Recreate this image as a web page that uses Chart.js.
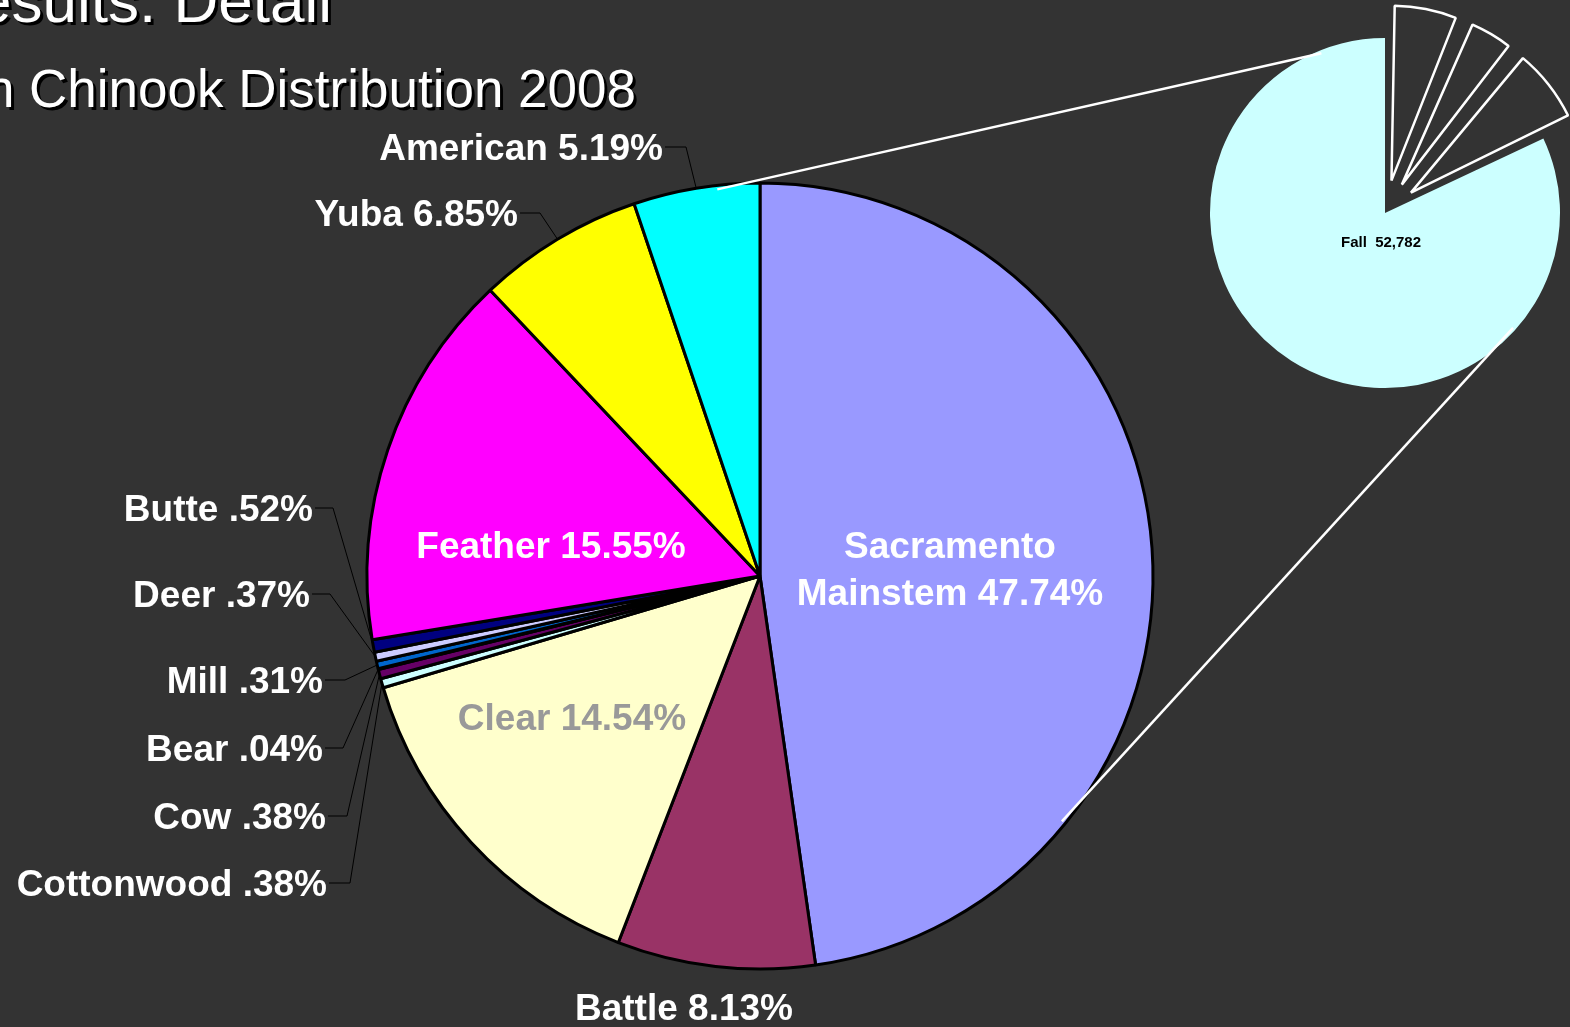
<!DOCTYPE html>
<html>
<head>
<meta charset="utf-8">
<script src="https://cdn.jsdelivr.net/npm/chart.js@4.4.1/dist/chart.umd.min.js"></script>
<style>
  html, body { margin: 0; padding: 0; background: #333333; overflow: hidden; }
  #chart_runs { position: absolute; left: 1200px; top: 0; z-index: 1; }
  #chart_rivers { position: absolute; left: 0; top: 0; z-index: 2; }
</style>
</head>
<body>
<canvas id="chart_runs" width="370" height="426"></canvas>
<canvas id="chart_rivers" width="1570" height="1027"></canvas>
<script>
// river share of fall-run chinook, percent (clockwise from 12 o'clock)
var riverNames = ['Sacramento Mainstem', 'Battle', 'Clear', 'Cottonwood', 'Cow', 'Bear',
                  'Mill', 'Deer', 'Butte', 'Feather', 'Yuba', 'American'];
var riverPercent = [47.74, 8.13, 14.54, 0.38, 0.38, 0.04, 0.31, 0.37, 0.52, 15.55, 6.85, 5.19];
var riverColors = ['#9999FF', '#993366', '#FFFFCC', '#CCFFFF', '#660066', '#FF8080',
                   '#0066CC', '#CCCCFF', '#000080', '#FF00FF', '#FFFF00', '#00FFFF'];

// run totals for the small pie (only Fall is labelled)
var runNames = ['Spring', 'Winter', 'Late-fall', 'Fall'];
var runCounts = [4040, 2900, 4650, 52782];

var titleLines = ['esults: Detail', 'n Chinook Distribution 2008'];

// where each river label sits; elbow = x where the leader line bends
var labelLayout = [
  {x: 950, y: 548, align: 'center', wrap: true, gap: 47},
  {x: 684, y: 1010, align: 'center'},
  {x: 572, y: 720, align: 'center', color: '#999999'},
  {x: 327, y: 886, align: 'right', elbow: 350},
  {x: 326, y: 819, align: 'right', elbow: 347},
  {x: 323, y: 751, align: 'right', elbow: 343},
  {x: 323, y: 683, align: 'right', elbow: 345},
  {x: 310, y: 597, align: 'right', elbow: 330},
  {x: 313, y: 511, align: 'right', elbow: 333},
  {x: 551, y: 548, align: 'center'},
  {x: 518, y: 216, align: 'right', elbow: 540},
  {x: 663, y: 150, align: 'right', elbow: 686}
];

// white lines joining the two pies (angles clockwise from top, degrees)
var connectors = [
  {mainDeg: -6.3, smallDeg: -21.7},
  {mainDeg: 129.1, smallDeg: 131.9}
];

var labelFont = 'bold 37px "Liberation Sans", Arial, sans-serif';

function pctText(v) {
  var s = v.toFixed(2);
  if (v < 1) s = s.replace(/^0/, '');
  return s + '%';
}

function onCircle(cx, cy, r, deg) {
  var a = deg * Math.PI / 180;
  return {x: cx + Math.sin(a) * r, y: cy - Math.cos(a) * r};
}

var chart_runs = new Chart(document.getElementById('chart_runs'), {
  type: 'pie',
  data: {
    labels: runNames,
    datasets: [{
      data: runCounts,
      radius: 175,
      backgroundColor: ['#333333', '#333333', '#333333', '#CCFFFF'],
      borderColor: ['#FFFFFF', '#FFFFFF', '#FFFFFF', '#CCFFFF'],
      borderWidth: [2.5, 2.5, 2.5, 0],
      offset: [132, 132, 132, 0]
    }]
  },
  options: {
    animation: false,
    responsive: false,
    events: [],
    plugins: {
      legend: { display: false },
      tooltip: { enabled: false }
    }
  },
  plugins: [{
    id: 'runLabels',
    afterDatasetsUpdate: function (chart) {
      // keep exploded wedges at the same radius as the main disc
      chart.getDatasetMeta(0).data.forEach(function (arc) {
        var off = (arc.options.offset || 0) / 4;
        if (!off) return;
        var fix = 1 - Math.sin(Math.min(Math.PI, arc.circumference));
        arc.outerRadius -= off * fix;
      });
    },
    afterDatasetsDraw: function (chart) {
      var ctx = chart.ctx;
      var arc = chart.getDatasetMeta(0).data[3];
      ctx.save();
      ctx.font = 'bold 15px "Liberation Sans", Arial, sans-serif';
      ctx.fillStyle = '#000000';
      ctx.textAlign = 'center';
      ctx.textBaseline = 'middle';
      ctx.fillText(runNames[3] + '  ' + runCounts[3].toLocaleString('en-US'), arc.x - 4, arc.y + 30);
      ctx.restore();
    }
  }]
});

var chart_rivers = new Chart(document.getElementById('chart_rivers'), {
  type: 'pie',
  data: {
    labels: riverNames,
    datasets: [{
      data: riverPercent,
      radius: 393,
      backgroundColor: riverColors,
      borderColor: '#000000',
      borderWidth: 3
    }]
  },
  options: {
    animation: false,
    responsive: false,
    events: [],
    layout: { padding: { left: 0, right: 50, top: 125, bottom: 0 } },
    plugins: {
      legend: { display: false },
      tooltip: { enabled: false }
    }
  },
  plugins: [{
    id: 'riverLabels',
    afterDatasetsDraw: function (chart) {
      var ctx = chart.ctx;
      var arcs = chart.getDatasetMeta(0).data;
      ctx.save();

      // title lines, white with a dark drop shadow
      var titleFonts = ['62px "Liberation Sans", Arial, sans-serif', '53px "Liberation Sans", Arial, sans-serif'];
      var titleRight = [332, 636];
      var titleBase = [22, 107];
      ctx.textAlign = 'right';
      ctx.textBaseline = 'alphabetic';
      titleLines.forEach(function (t, i) {
        ctx.font = titleFonts[i];
        ctx.fillStyle = '#000000';
        ctx.fillText(t, titleRight[i] + 3, titleBase[i] + 3);
        ctx.fillStyle = '#FFFFFF';
        ctx.fillText(t, titleRight[i], titleBase[i]);
      });

      // river labels and leader lines
      ctx.font = labelFont;
      ctx.textBaseline = 'middle';
      arcs.forEach(function (arc, i) {
        var lay = labelLayout[i];
        var txt = riverNames[i] + ' ' + pctText(riverPercent[i]);
        ctx.fillStyle = lay.color || '#FFFFFF';
        ctx.textAlign = lay.align;
        if (lay.wrap) {
          var words = riverNames[i].split(' ');
          ctx.fillText(words[0], lay.x, lay.y);
          ctx.fillText(words.slice(1).join(' ') + ' ' + pctText(riverPercent[i]), lay.x, lay.y + lay.gap);
        } else {
          ctx.fillText(txt, lay.x, lay.y);
        }
        if (lay.elbow) {
          var mid = (arc.startAngle + arc.endAngle) / 2;
          var px = arc.x + Math.cos(mid) * arc.outerRadius;
          var py = arc.y + Math.sin(mid) * arc.outerRadius;
          ctx.strokeStyle = '#000000';
          ctx.lineWidth = 1;
          ctx.beginPath();
          ctx.moveTo(lay.x + 2, lay.y - 3);
          ctx.lineTo(lay.elbow, lay.y - 3);
          ctx.lineTo(px, py);
          ctx.stroke();
        }
      });

      // connectors to the small pie
      var big = arcs[0];
      var small = chart_runs.getDatasetMeta(0).data[3];
      var sc = chart_runs.canvas;
      var sx = sc.offsetLeft + small.x;
      var sy = sc.offsetTop + small.y;
      ctx.strokeStyle = '#FFFFFF';
      ctx.lineWidth = 2.5;
      connectors.forEach(function (c) {
        var a = onCircle(big.x, big.y, big.outerRadius - 4, c.mainDeg);
        var b = onCircle(sx, sy, small.outerRadius - 3, c.smallDeg);
        ctx.beginPath();
        ctx.moveTo(a.x, a.y);
        ctx.lineTo(b.x, b.y);
        ctx.stroke();
      });
      ctx.restore();
    }
  }]
});
</script>
</body>
</html>
